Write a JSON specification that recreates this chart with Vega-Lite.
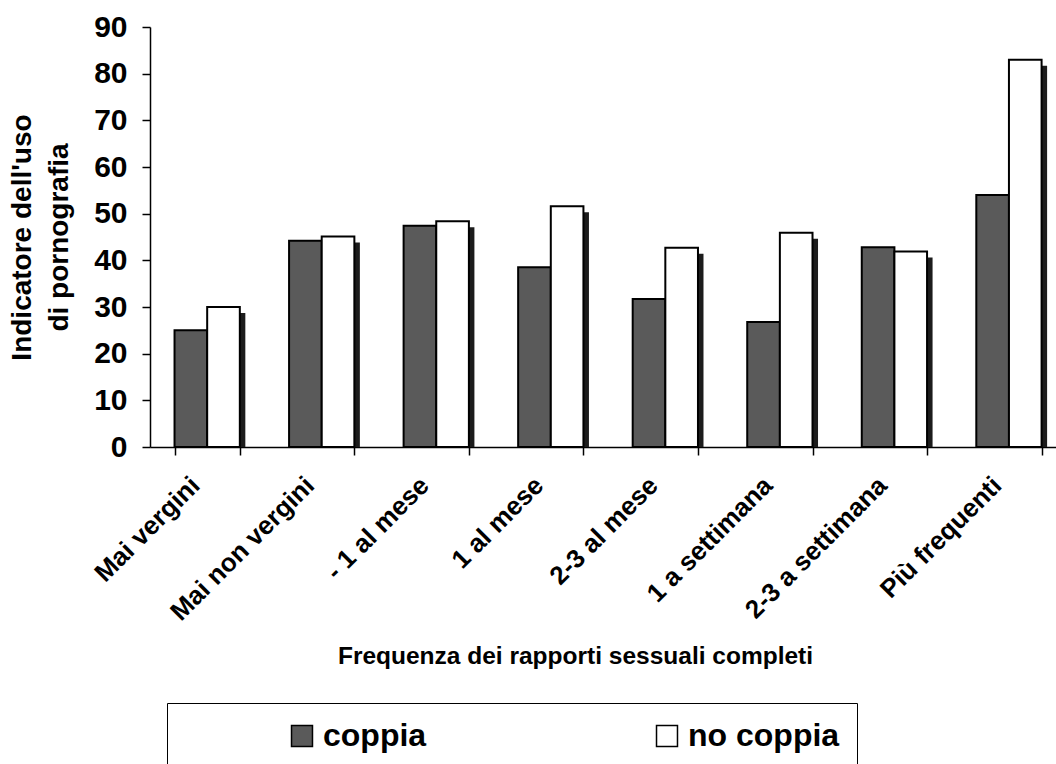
{
  "$schema": "https://vega.github.io/schema/vega-lite/v6.json",
  "width": 906,
  "height": 420,
  "autosize": {"type": "none"},
  "padding": {"left": 150, "top": 27, "right": 0, "bottom": 317},
  "background": "white",
  "config": {
    "view": {"stroke": null},
    "font": "Liberation Sans",
    "axis": {
      "domainColor": "black",
      "tickColor": "black",
      "labelColor": "black",
      "titleColor": "black",
      "grid": false,
      "labelFontWeight": "bold",
      "titleFontWeight": "bold",
      "domainWidth": 1.5,
      "tickWidth": 1.5,
      "labelFont": "Liberation Sans",
      "titleFont": "Liberation Sans"
    }
  },
  "data": {
    "values": [
      {"freq": "Mai vergini", "gruppo": "coppia", "valore": 25.0},
      {"freq": "Mai vergini", "gruppo": "no coppia", "valore": 30.0},
      {"freq": "Mai non vergini", "gruppo": "coppia", "valore": 44.2},
      {"freq": "Mai non vergini", "gruppo": "no coppia", "valore": 45.1},
      {"freq": "- 1 al mese", "gruppo": "coppia", "valore": 47.4},
      {"freq": "- 1 al mese", "gruppo": "no coppia", "valore": 48.4},
      {"freq": "1 al mese", "gruppo": "coppia", "valore": 38.5},
      {"freq": "1 al mese", "gruppo": "no coppia", "valore": 51.6},
      {"freq": "2-3 al mese", "gruppo": "coppia", "valore": 31.7},
      {"freq": "2-3 al mese", "gruppo": "no coppia", "valore": 42.7},
      {"freq": "1 a settimana", "gruppo": "coppia", "valore": 26.8},
      {"freq": "1 a settimana", "gruppo": "no coppia", "valore": 45.9},
      {"freq": "2-3 a settimana", "gruppo": "coppia", "valore": 42.8},
      {"freq": "2-3 a settimana", "gruppo": "no coppia", "valore": 41.9},
      {"freq": "Più frequenti", "gruppo": "coppia", "valore": 54.0},
      {"freq": "Più frequenti", "gruppo": "no coppia", "valore": 83.0}
    ]
  },
  "encoding": {
    "x": {
      "field": "freq",
      "type": "nominal",
      "sort": null,
      "scale": {"paddingInner": 0.43, "paddingOuter": 0.17, "align": 0.63},
      "axis": {
        "title": "Frequenza dei rapporti sessuali completi",
        "titleFontSize": 24.5,
        "titleX": 425,
        "titleY": 216,
        "titleAlign": "center",
        "titleBaseline": "alphabetic",
        "labelAngle": -45,
        "labelAlign": "right",
        "labelBaseline": "middle",
        "labelFontSize": 26,
        "labelPadding": 26,
        "labelOffset": -12,
        "labelLimit": 400,
        "tickBand": "extent",
        "tickSize": 8
      }
    },
    "y": {
      "field": "valore",
      "type": "quantitative",
      "scale": {"domain": [0, 90], "nice": false},
      "axis": {
        "title": ["Indicatore dell'uso", "di pornografia"],
        "titleFontSize": 28,
        "titleLineHeight": 37,
        "titlePadding": 20,
        "values": [0, 10, 20, 30, 40, 50, 60, 70, 80, 90],
        "labelFontSize": 30,
        "labelPadding": 15,
        "tickSize": 8
      }
    }
  },
  "layer": [
    {
      "mark": {"type": "bar", "color": "#1c1c1c", "yOffset": 6, "clip": true},
      "encoding": {
        "xOffset": {
          "field": "gruppo",
          "type": "nominal",
          "sort": ["coppia", "no coppia"],
          "scale": {"range": [5.5, 70.8], "paddingInner": 0, "paddingOuter": 0}
        }
      }
    },
    {
      "mark": {"type": "bar", "stroke": "black", "strokeWidth": 2},
      "encoding": {
        "xOffset": {
          "field": "gruppo",
          "type": "nominal",
          "sort": ["coppia", "no coppia"],
          "scale": {"paddingInner": 0, "paddingOuter": 0}
        },
        "fill": {
          "field": "gruppo",
          "type": "nominal",
          "scale": {"domain": ["coppia", "no coppia"], "range": ["#5a5a5a", "#ffffff"]},
          "legend": {
            "orient": "none",
            "legendX": 17,
            "legendY": 676,
            "direction": "horizontal",
            "columns": 2,
            "title": " ",
            "titleOrient": "left",
            "titleFontSize": 1,
            "titlePadding": 102,
            "padding": 17,
            "strokeColor": "black",
            "fillColor": "white",
            "symbolType": "square",
            "symbolSize": 440,
            "symbolStrokeColor": "black",
            "symbolStrokeWidth": 1.5,
            "symbolOpacity": 1,
            "labelFont": "Liberation Sans",
            "labelFontSize": 32,
            "labelFontWeight": "bold",
            "labelColor": "black",
            "labelOffset": 5,
            "columnPadding": 224
          }
        }
      }
    }
  ],
  "resolve": {"scale": {"xOffset": "independent"}}
}
